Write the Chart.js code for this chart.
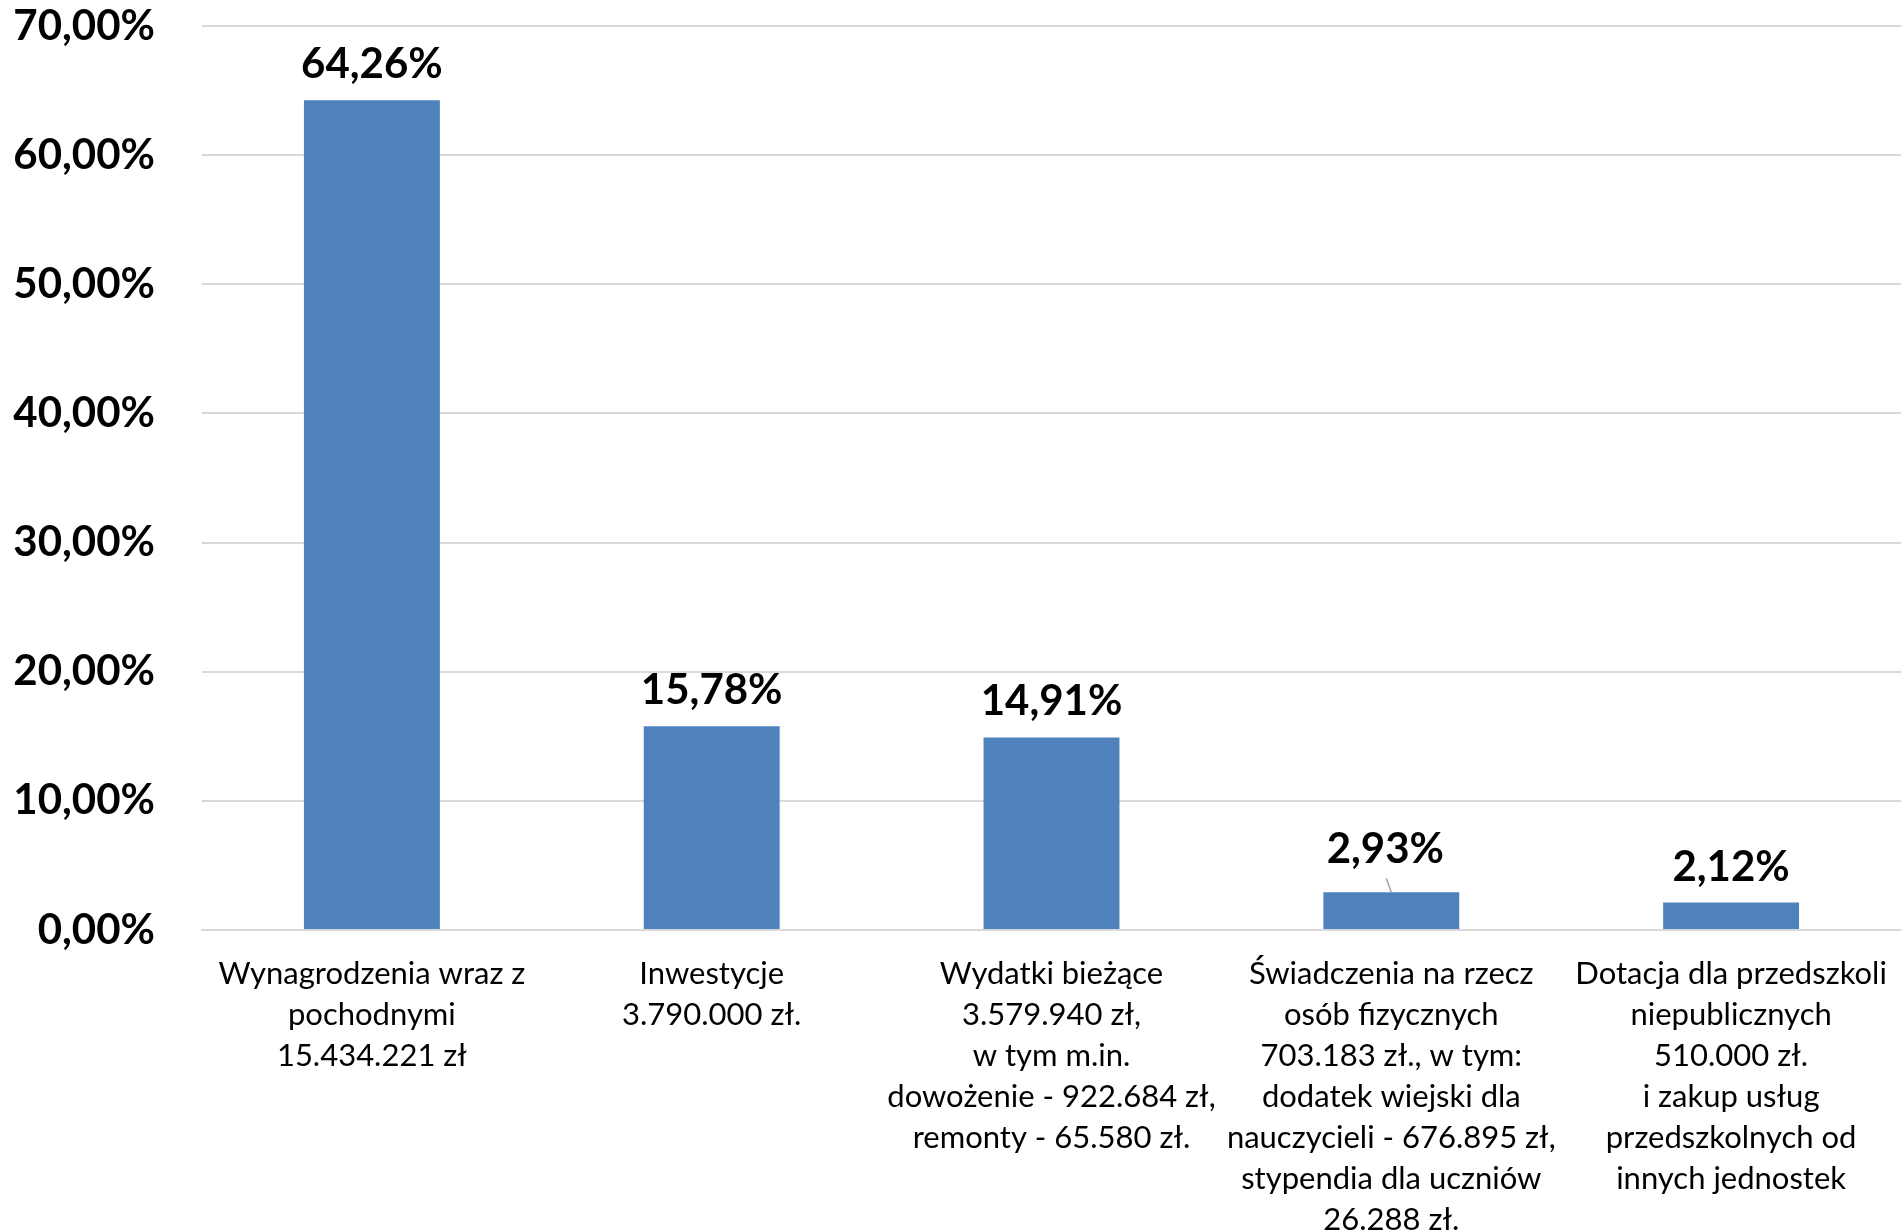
<!DOCTYPE html>
<html>
<head>
<meta charset="utf-8">
<script src="https://cdn.jsdelivr.net/npm/chart.js@4.4.1/dist/chart.umd.min.js"></script>
<style>
html,body{margin:0;padding:0;background:#fff;}
#wrap{width:1901px;height:1232px;position:relative;}
</style>
</head>
<body>
<div id="wrap"><canvas id="c"></canvas></div>
<script>
const categories = [
  ["Wynagrodzenia wraz z", "pochodnymi", "15.434.221 zł"],
  ["Inwestycje", "3.790.000 zł."],
  ["Wydatki bieżące", "3.579.940 zł,", "w tym m.in.", "dowożenie - 922.684 zł,", "remonty - 65.580 zł."],
  ["Świadczenia na rzecz", "osób fizycznych", "703.183 zł., w tym:", "dodatek wiejski dla", "nauczycieli - 676.895 zł,", "stypendia dla uczniów", "26.288 zł."],
  ["Dotacja dla przedszkoli", "niepublicznych", "510.000 zł.", "i zakup usług", "przedszkolnych od", "innych jednostek"]
];
const shares = [64.26, 15.78, 14.91, 2.93, 2.12];
const yTicks = [0, 10, 20, 30, 40, 50, 60, 70];

const fmt = v => v.toFixed(2).replace('.', ',') + '%';

const valueLabels = {
  id: 'valueLabels',
  afterDatasetsDraw(chart, args, opts) {
    const ctx = chart.ctx;
    const meta = chart.getDatasetMeta(0);
    ctx.save();
    ctx.font = 'bold 42px Lato';
    ctx.fillStyle = '#000';
    ctx.textAlign = 'center';
    ctx.textBaseline = 'alphabetic';
    meta.data.forEach((bar, i) => {
      const off = (opts.moved && opts.moved[i]) || {dx: 0, dy: 0};
      const x = bar.x + off.dx;
      const y = bar.y - opts.gap - off.dy;
      ctx.fillText(fmt(shares[i]), x, y);
      if (off.leader) {
        ctx.strokeStyle = '#a6a6a6';
        ctx.lineWidth = 1.5;
        ctx.beginPath();
        ctx.moveTo(x + 1, y + 15);
        ctx.lineTo(bar.x, bar.y);
        ctx.stroke();
      }
    });
    ctx.restore();
  }
};

new Chart(document.getElementById('c'), {
  type: 'bar',
  data: {
    labels: categories,
    datasets: [{
      data: shares,
      backgroundColor: '#4F81BD',
      borderWidth: 0,
      barPercentage: 0.4,
      categoryPercentage: 1.0
    }]
  },
  options: {
    responsive: true,
    maintainAspectRatio: false,
    animation: false,
    layout: { padding: { top: 26, right: 0, left: 0, bottom: 0 } },
    plugins: {
      legend: { display: false },
      tooltip: { enabled: false },
      valueLabels: { gap: 22, moved: { 3: { dx: -6, dy: 7, leader: true } } }
    },
    scales: {
      x: {
        grid: { display: false },
        border: { display: true, color: '#d9d9d9', width: 2 },
        ticks: {
          color: '#000',
          font: { family: 'Lato', size: 31, lineHeight: 1.32 },
          maxRotation: 0, minRotation: 0, autoSkip: false,
          padding: 16
        },
        afterFit(scale) {
          scale.height = 302;
          scale.paddingLeft = 0; scale.paddingRight = 0;
          scale.paddingTop = 0; scale.paddingBottom = 0;
        }
      },
      y: {
        min: 0, max: 70,
        afterBuildTicks(scale) { scale.ticks = yTicks.map(v => ({ value: v })); },
        grid: { color: '#d9d9d9', lineWidth: 2, drawTicks: false },
        border: { display: false },
        ticks: {
          color: '#000',
          font: { family: 'Lato', size: 42, weight: 'bold' },
          padding: 47,
          callback: v => fmt(v)
        },
        afterFit(scale) {
          scale.width = 202;
          scale.paddingTop = 0; scale.paddingBottom = 0;
          scale.paddingLeft = 0; scale.paddingRight = 0;
        }
      }
    }
  },
  plugins: [valueLabels]
});
</script>
</body>
</html>
